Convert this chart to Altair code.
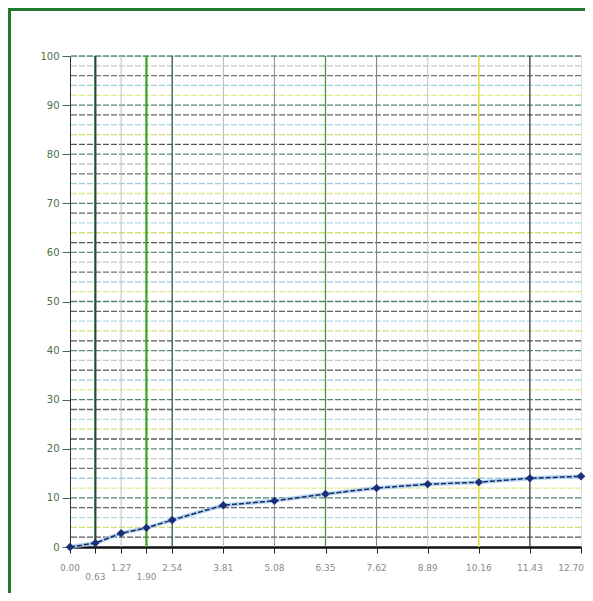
import altair as alt
import pandas as pd

# ---- data ----
x_vals = [0.00, 0.63, 1.27, 1.90, 2.54, 3.81, 5.08, 6.35, 7.62, 8.89, 10.16, 11.43, 12.70]
y_vals = [0.0, 0.8, 2.8, 3.9, 5.5, 8.5, 9.4, 10.8, 12.0, 12.8, 13.2, 14.0, 14.4]
x_labels = ["0.00", "0.63", "1.27", "1.90", "2.54", "3.81", "5.08",
            "6.35", "7.62", "8.89", "10.16", "11.43", "12.70"]
lower_labels = ["0.63", "1.90"]
edge_labels = ["12.70"]
y_ticks = list(range(0, 101, 10))

W, H = 511, 491

pts = pd.DataFrame({"x": x_vals, "y": y_vals})

# styling for the scanned-paper grid
h_palette = ["#3a3a3a", "#c9d85a", "#9fd3e0", "#4a4a4a", "#2f6f55",
             "#e2e27a", "#8cc6d6", "#5a5a5a", "#bdbdbd", "#3d7d62"]
h_lines = pd.DataFrame({"y": list(range(2, 101, 2))})
h_lines["c"] = [h_palette[i % len(h_palette)] for i in range(len(h_lines))]

v_style = {0.63: ("#1f4f2f", 2.2), 1.27: ("#b8c8b8", 1), 1.90: ("#3aa020", 2.2),
           2.54: ("#3f5f4f", 1.4), 3.81: ("#b0b8b0", 1), 5.08: ("#8a8a8a", 1),
           6.35: ("#4f8f3f", 1.3), 7.62: ("#7a7a7a", 1), 8.89: ("#c0c8c0", 1),
           10.16: ("#e0e040", 1.6), 11.43: ("#3a3a3a", 1.3)}
v_lines = pd.DataFrame({"x": list(v_style.keys()),
                        "c": [v[0] for v in v_style.values()],
                        "w": [v[1] for v in v_style.values()]})

labels = pd.DataFrame({"x": x_vals, "lab": x_labels})
labels["low"] = labels["lab"].isin(lower_labels)
labels["edge"] = labels["lab"].isin(edge_labels)

xs = alt.Scale(domain=[0, 12.70], nice=False, zero=True)
ys = alt.Scale(domain=[0, 100], nice=False)

x_axis = alt.Axis(values=x_vals, labels=False, grid=False, tickSize=6, tickColor="#222222",
                  domainColor="#111111", domainWidth=2.5, title=None)
y_axis = alt.Axis(values=y_ticks, grid=False, tickSize=8, tickColor="#556655",
                  domainColor="#333333", domainWidth=1, labelColor="#4f6f4a",
                  labelFont="DejaVu Sans", labelFontSize=10, labelPadding=3, title=None)

X = alt.X("x:Q", scale=xs, axis=x_axis)
Y = alt.Y("y:Q", scale=ys, axis=y_axis)

hgrid = alt.Chart(h_lines).mark_rule(strokeDash=[6, 2], strokeWidth=1.3, opacity=0.85).encode(
    y=Y, color=alt.Color("c:N", scale=None))

vgrid = alt.Chart(v_lines).mark_rule().encode(
    x=X, color=alt.Color("c:N", scale=None), strokeWidth=alt.StrokeWidth("w:Q", scale=None))

glow = alt.Chart(pts).mark_line(color="#9fc8ee", strokeWidth=4, opacity=0.8).encode(x=X, y=Y)
line = alt.Chart(pts).mark_line(color="#1b2a5a", strokeWidth=1.5, strokeDash=[5, 2]).encode(x=X, y=Y)
points = alt.Chart(pts).mark_point(shape="diamond", filled=True, size=70, color="#1a2f78",
                                   opacity=1).encode(x=X, y=Y)

txt = dict(fontSize=9, color="#8a8a8a", font="DejaVu Sans", baseline="middle")
lab_hi = alt.Chart(labels).transform_filter("!datum.low && !datum.edge").mark_text(**txt).encode(
    x=X, y=alt.value(H + 21), text="lab:N")
lab_lo = alt.Chart(labels).transform_filter("datum.low").mark_text(**txt).encode(
    x=X, y=alt.value(H + 30), text="lab:N")
lab_edge = alt.Chart(labels).transform_filter("datum.edge").mark_text(
    align="right", dx=3, **txt).encode(x=X, y=alt.value(H + 21), text="lab:N")

frame = alt.Chart(pts).mark_rect(fill=None, stroke="#1f7a2f", strokeWidth=3).encode(
    x=alt.value(-61), x2=alt.value(W + 40), y=alt.value(-47), y2=alt.value(H + 80))

chart = alt.layer(hgrid, vgrid, glow, line, points, lab_hi, lab_lo, lab_edge, frame).properties(
    width=W, height=H,
    autosize=alt.AutoSizeParams(type="none"),
    padding={"left": 62, "top": 48, "right": 4, "bottom": 46},
).configure_view(stroke=None).configure(background="white")

chart.save("out.html", embed_options={"renderer": "svg", "actions": False})
